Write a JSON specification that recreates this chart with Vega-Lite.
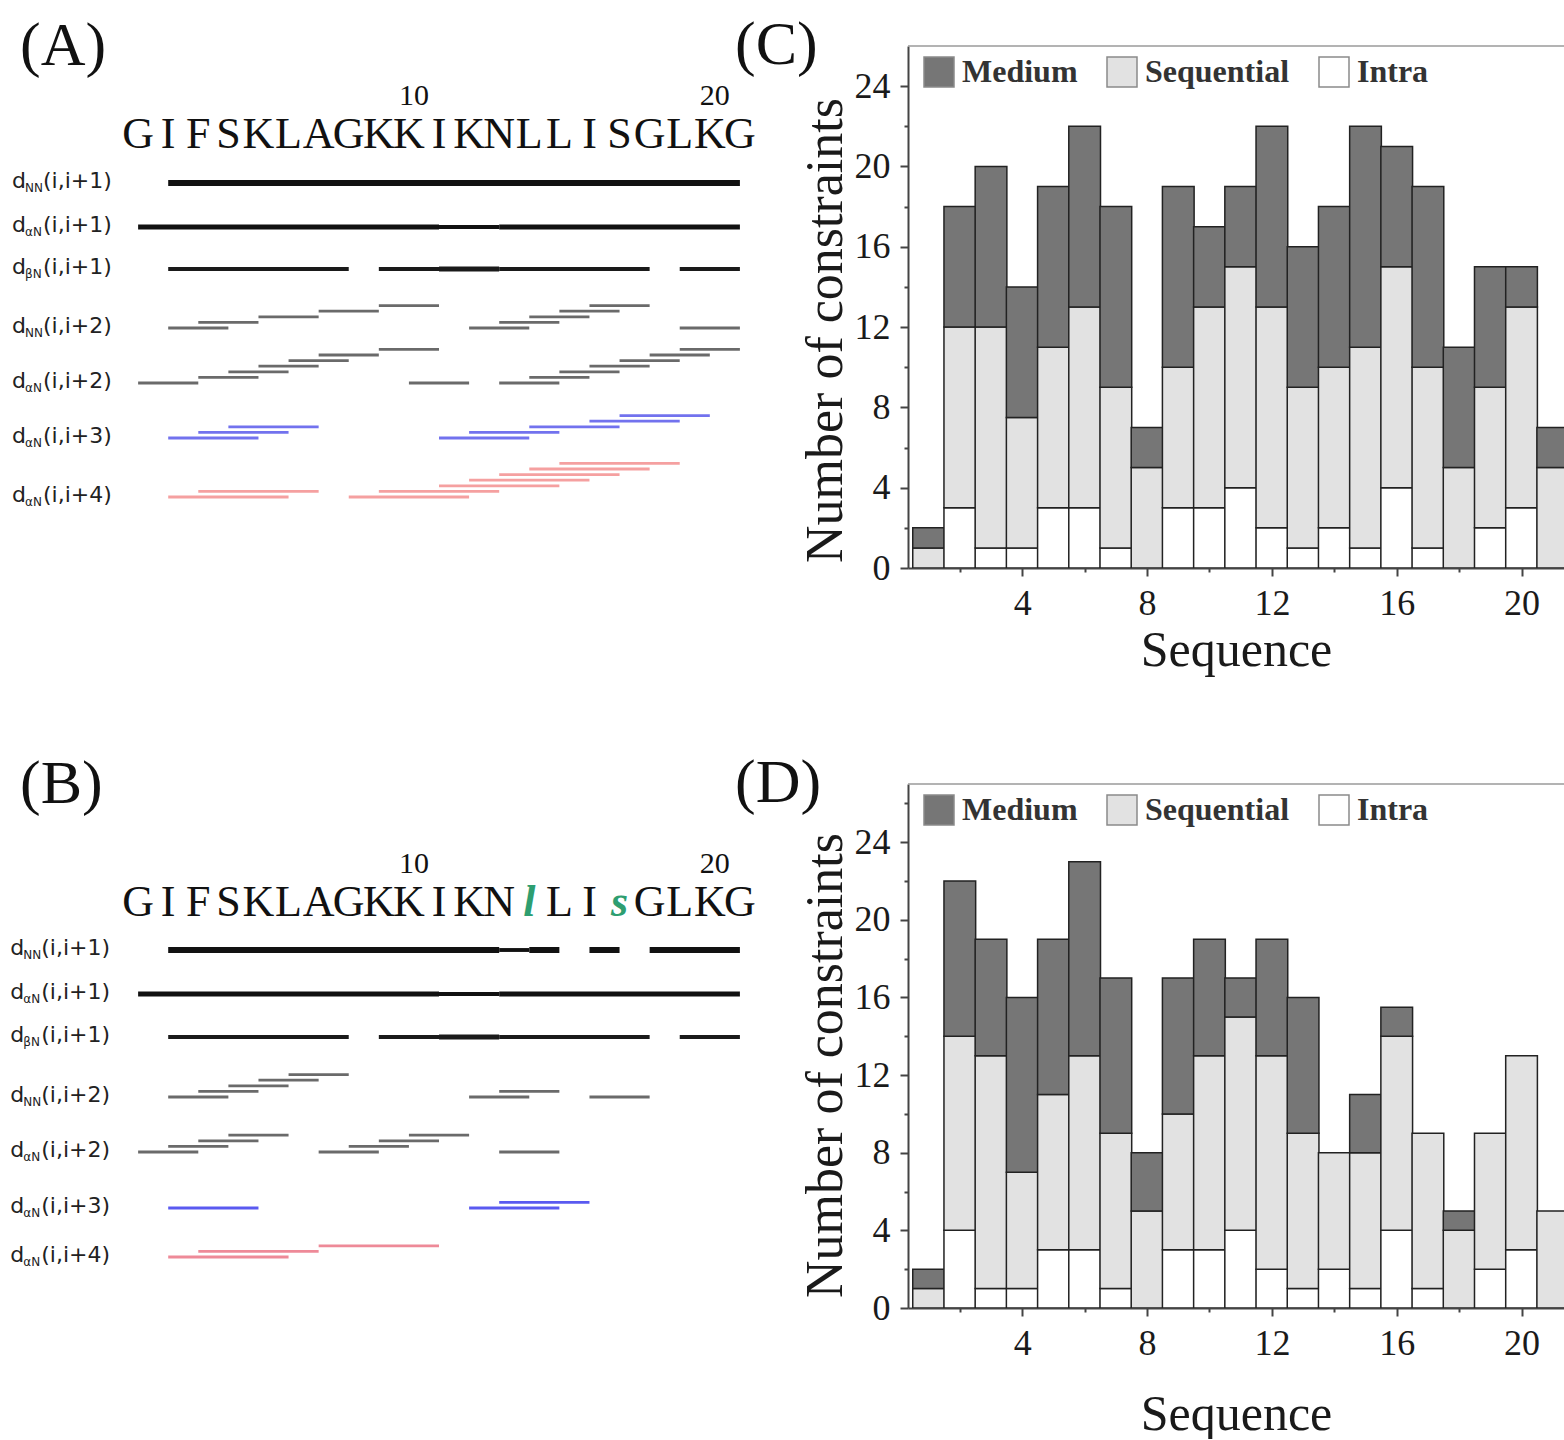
{
"$schema": "https://vega.github.io/schema/vega-lite/v6.json",
"background": "white",
"padding": {"top": 14, "left": 0, "right": 0, "bottom": 0},
"columns": 2,
"bounds": "flush",
"align": "each",
"spacing": {"row": 216, "column": 138},
"resolve": {"scale": {"x": "independent", "y": "independent", "color": "independent", "strokeWidth": "independent"}},
"config": {
  "view": {"stroke": null},
  "title": {"font": "Liberation Serif", "fontSize": 62, "fontWeight": "normal", "color": "#111", "anchor": "start", "frame": "group", "offset": -32, "baseline": "middle"},
  "axis": {"domainColor": "#444", "domainWidth": 2, "tickColor": "#444", "tickWidth": 2, "labelFont": "Liberation Serif", "labelFontSize": 36, "labelColor": "#1a1a1a", "titleFont": "Liberation Serif", "titleFontSize": 50, "titleFontWeight": "normal", "titleColor": "#1a1a1a", "grid": false, "labelFlush": false, "labelOverlap": false, "labelPadding": 10},
  "legend": {"orient": "none", "legendX": 15, "legendY": 10, "direction": "horizontal", "symbolType": "square", "symbolSize": 900, "symbolStrokeColor": "#8a8a8a", "symbolStrokeWidth": 1.5, "labelFont": "Liberation Serif", "labelFontSize": 32, "labelFontWeight": "bold", "labelColor": "#333", "labelOffset": 7, "columnPadding": 26, "labelLimit": 0, "padding": 0}
},
"datasets": {
  "seqA": [{"i":1,"a":"G"},{"i":2,"a":"I"},{"i":3,"a":"F"},{"i":4,"a":"S"},{"i":5,"a":"K"},{"i":6,"a":"L"},{"i":7,"a":"A"},{"i":8,"a":"G"},{"i":9,"a":"K"},{"i":10,"a":"K"},{"i":11,"a":"I"},{"i":12,"a":"K"},{"i":13,"a":"N"},{"i":14,"a":"L"},{"i":15,"a":"L"},{"i":16,"a":"I"},{"i":17,"a":"S"},{"i":18,"a":"G"},{"i":19,"a":"L"},{"i":20,"a":"K"},{"i":21,"a":"G"}],
  "seqB": [{"i":1,"a":"G","d":false},{"i":2,"a":"I","d":false},{"i":3,"a":"F","d":false},{"i":4,"a":"S","d":false},{"i":5,"a":"K","d":false},{"i":6,"a":"L","d":false},{"i":7,"a":"A","d":false},{"i":8,"a":"G","d":false},{"i":9,"a":"K","d":false},{"i":10,"a":"K","d":false},{"i":11,"a":"I","d":false},{"i":12,"a":"K","d":false},{"i":13,"a":"N","d":false},{"i":14,"a":"l","d":true},{"i":15,"a":"L","d":false},{"i":16,"a":"I","d":false},{"i":17,"a":"s","d":true},{"i":18,"a":"G","d":false},{"i":19,"a":"L","d":false},{"i":20,"a":"K","d":false},{"i":21,"a":"G","d":false}],
  "lab": [{"r":1,"sub":"NN","p":"(i,i+1)"},{"r":2,"sub":"αN","p":"(i,i+1)"},{"r":3,"sub":"βN","p":"(i,i+1)"},{"r":4,"sub":"NN","p":"(i,i+2)"},{"r":5,"sub":"αN","p":"(i,i+2)"},{"r":6,"sub":"αN","p":"(i,i+3)"},{"r":7,"sub":"αN","p":"(i,i+4)"}],
  "noeA": [
    {"r":1,"f":2,"t":21,"l":0,"s":4},
    {"r":2,"f":1,"t":11,"l":0,"s":3},{"r":2,"f":11,"t":13,"l":0,"s":2},{"r":2,"f":13,"t":21,"l":0,"s":3},
    {"r":3,"f":2,"t":8,"l":0,"s":2},{"r":3,"f":9,"t":11,"l":0,"s":2},{"r":3,"f":11,"t":13,"l":0,"s":3},{"r":3,"f":13,"t":18,"l":0,"s":2},{"r":3,"f":19,"t":21,"l":0,"s":2},
    {"r":4,"f":2,"t":4,"l":0,"s":1},{"r":4,"f":3,"t":5,"l":1,"s":1},{"r":4,"f":5,"t":7,"l":2,"s":1},{"r":4,"f":7,"t":9,"l":3,"s":1},{"r":4,"f":9,"t":11,"l":4,"s":1},{"r":4,"f":12,"t":14,"l":0,"s":1},{"r":4,"f":13,"t":15,"l":1,"s":1},{"r":4,"f":14,"t":16,"l":2,"s":1},{"r":4,"f":15,"t":17,"l":3,"s":1},{"r":4,"f":16,"t":18,"l":4,"s":1},{"r":4,"f":19,"t":21,"l":0,"s":1},
    {"r":5,"f":1,"t":3,"l":0,"s":1},{"r":5,"f":3,"t":5,"l":1,"s":1},{"r":5,"f":4,"t":6,"l":2,"s":1},{"r":5,"f":5,"t":7,"l":3,"s":1},{"r":5,"f":6,"t":8,"l":4,"s":1},{"r":5,"f":7,"t":9,"l":5,"s":1},{"r":5,"f":9,"t":11,"l":6,"s":1},{"r":5,"f":10,"t":12,"l":0,"s":1},{"r":5,"f":13,"t":15,"l":0,"s":1},{"r":5,"f":14,"t":16,"l":1,"s":1},{"r":5,"f":15,"t":17,"l":2,"s":1},{"r":5,"f":16,"t":18,"l":3,"s":1},{"r":5,"f":17,"t":19,"l":4,"s":1},{"r":5,"f":18,"t":20,"l":5,"s":1},{"r":5,"f":19,"t":21,"l":6,"s":1},
    {"r":6,"f":2,"t":5,"l":0,"s":1},{"r":6,"f":3,"t":6,"l":1,"s":1},{"r":6,"f":4,"t":7,"l":2,"s":1},{"r":6,"f":11,"t":14,"l":0,"s":1},{"r":6,"f":12,"t":15,"l":1,"s":1},{"r":6,"f":14,"t":17,"l":2,"s":1},{"r":6,"f":16,"t":19,"l":3,"s":1},{"r":6,"f":17,"t":20,"l":4,"s":1},
    {"r":7,"f":2,"t":6,"l":0,"s":1},{"r":7,"f":3,"t":7,"l":1,"s":1},{"r":7,"f":8,"t":12,"l":0,"s":1},{"r":7,"f":9,"t":13,"l":1,"s":1},{"r":7,"f":11,"t":15,"l":2,"s":1},{"r":7,"f":12,"t":16,"l":3,"s":1},{"r":7,"f":13,"t":17,"l":4,"s":1},{"r":7,"f":14,"t":18,"l":5,"s":1},{"r":7,"f":15,"t":19,"l":6,"s":1}
  ],
  "noeB": [
    {"r":1,"f":2,"t":13,"l":0,"s":4},{"r":1,"f":13,"t":14,"l":0,"s":2},{"r":1,"f":14,"t":15,"l":0,"s":4},{"r":1,"f":16,"t":17,"l":0,"s":4},{"r":1,"f":18,"t":21,"l":0,"s":4},
    {"r":2,"f":1,"t":11,"l":0,"s":3},{"r":2,"f":11,"t":13,"l":0,"s":2},{"r":2,"f":13,"t":21,"l":0,"s":3},
    {"r":3,"f":2,"t":8,"l":0,"s":2},{"r":3,"f":9,"t":11,"l":0,"s":2},{"r":3,"f":11,"t":13,"l":0,"s":3},{"r":3,"f":13,"t":18,"l":0,"s":2},{"r":3,"f":19,"t":21,"l":0,"s":2},
    {"r":4,"f":2,"t":4,"l":0,"s":1},{"r":4,"f":3,"t":5,"l":1,"s":1},{"r":4,"f":4,"t":6,"l":2,"s":1},{"r":4,"f":5,"t":7,"l":3,"s":1},{"r":4,"f":6,"t":8,"l":4,"s":1},{"r":4,"f":12,"t":14,"l":0,"s":1},{"r":4,"f":13,"t":15,"l":1,"s":1},{"r":4,"f":16,"t":18,"l":0,"s":1},
    {"r":5,"f":1,"t":3,"l":0,"s":1},{"r":5,"f":2,"t":4,"l":1,"s":1},{"r":5,"f":3,"t":5,"l":2,"s":1},{"r":5,"f":4,"t":6,"l":3,"s":1},{"r":5,"f":7,"t":9,"l":0,"s":1},{"r":5,"f":8,"t":10,"l":1,"s":1},{"r":5,"f":9,"t":11,"l":2,"s":1},{"r":5,"f":10,"t":12,"l":3,"s":1},{"r":5,"f":13,"t":15,"l":0,"s":1},
    {"r":6,"f":2,"t":5,"l":0,"s":1},{"r":6,"f":12,"t":15,"l":0,"s":1},{"r":6,"f":13,"t":16,"l":1,"s":1},
    {"r":7,"f":2,"t":6,"l":0,"s":1},{"r":7,"f":3,"t":7,"l":1,"s":1},{"r":7,"f":7,"t":11,"l":2,"s":1}
  ],
  "counts": [
    {"p":"C","x":1,"t":"Intra","o":0,"n":0},{"p":"C","x":1,"t":"Sequential","o":1,"n":1},{"p":"C","x":1,"t":"Medium","o":2,"n":1},
    {"p":"C","x":2,"t":"Intra","o":0,"n":3},{"p":"C","x":2,"t":"Sequential","o":1,"n":9},{"p":"C","x":2,"t":"Medium","o":2,"n":6},
    {"p":"C","x":3,"t":"Intra","o":0,"n":1},{"p":"C","x":3,"t":"Sequential","o":1,"n":11},{"p":"C","x":3,"t":"Medium","o":2,"n":8},
    {"p":"C","x":4,"t":"Intra","o":0,"n":1},{"p":"C","x":4,"t":"Sequential","o":1,"n":6.5},{"p":"C","x":4,"t":"Medium","o":2,"n":6.5},
    {"p":"C","x":5,"t":"Intra","o":0,"n":3},{"p":"C","x":5,"t":"Sequential","o":1,"n":8},{"p":"C","x":5,"t":"Medium","o":2,"n":8},
    {"p":"C","x":6,"t":"Intra","o":0,"n":3},{"p":"C","x":6,"t":"Sequential","o":1,"n":10},{"p":"C","x":6,"t":"Medium","o":2,"n":9},
    {"p":"C","x":7,"t":"Intra","o":0,"n":1},{"p":"C","x":7,"t":"Sequential","o":1,"n":8},{"p":"C","x":7,"t":"Medium","o":2,"n":9},
    {"p":"C","x":8,"t":"Intra","o":0,"n":0},{"p":"C","x":8,"t":"Sequential","o":1,"n":5},{"p":"C","x":8,"t":"Medium","o":2,"n":2},
    {"p":"C","x":9,"t":"Intra","o":0,"n":3},{"p":"C","x":9,"t":"Sequential","o":1,"n":7},{"p":"C","x":9,"t":"Medium","o":2,"n":9},
    {"p":"C","x":10,"t":"Intra","o":0,"n":3},{"p":"C","x":10,"t":"Sequential","o":1,"n":10},{"p":"C","x":10,"t":"Medium","o":2,"n":4},
    {"p":"C","x":11,"t":"Intra","o":0,"n":4},{"p":"C","x":11,"t":"Sequential","o":1,"n":11},{"p":"C","x":11,"t":"Medium","o":2,"n":4},
    {"p":"C","x":12,"t":"Intra","o":0,"n":2},{"p":"C","x":12,"t":"Sequential","o":1,"n":11},{"p":"C","x":12,"t":"Medium","o":2,"n":9},
    {"p":"C","x":13,"t":"Intra","o":0,"n":1},{"p":"C","x":13,"t":"Sequential","o":1,"n":8},{"p":"C","x":13,"t":"Medium","o":2,"n":7},
    {"p":"C","x":14,"t":"Intra","o":0,"n":2},{"p":"C","x":14,"t":"Sequential","o":1,"n":8},{"p":"C","x":14,"t":"Medium","o":2,"n":8},
    {"p":"C","x":15,"t":"Intra","o":0,"n":1},{"p":"C","x":15,"t":"Sequential","o":1,"n":10},{"p":"C","x":15,"t":"Medium","o":2,"n":11},
    {"p":"C","x":16,"t":"Intra","o":0,"n":4},{"p":"C","x":16,"t":"Sequential","o":1,"n":11},{"p":"C","x":16,"t":"Medium","o":2,"n":6},
    {"p":"C","x":17,"t":"Intra","o":0,"n":1},{"p":"C","x":17,"t":"Sequential","o":1,"n":9},{"p":"C","x":17,"t":"Medium","o":2,"n":9},
    {"p":"C","x":18,"t":"Intra","o":0,"n":0},{"p":"C","x":18,"t":"Sequential","o":1,"n":5},{"p":"C","x":18,"t":"Medium","o":2,"n":6},
    {"p":"C","x":19,"t":"Intra","o":0,"n":2},{"p":"C","x":19,"t":"Sequential","o":1,"n":7},{"p":"C","x":19,"t":"Medium","o":2,"n":6},
    {"p":"C","x":20,"t":"Intra","o":0,"n":3},{"p":"C","x":20,"t":"Sequential","o":1,"n":10},{"p":"C","x":20,"t":"Medium","o":2,"n":2},
    {"p":"C","x":21,"t":"Intra","o":0,"n":0},{"p":"C","x":21,"t":"Sequential","o":1,"n":5},{"p":"C","x":21,"t":"Medium","o":2,"n":2},
    {"p":"D","x":1,"t":"Intra","o":0,"n":0},{"p":"D","x":1,"t":"Sequential","o":1,"n":1},{"p":"D","x":1,"t":"Medium","o":2,"n":1},
    {"p":"D","x":2,"t":"Intra","o":0,"n":4},{"p":"D","x":2,"t":"Sequential","o":1,"n":10},{"p":"D","x":2,"t":"Medium","o":2,"n":8},
    {"p":"D","x":3,"t":"Intra","o":0,"n":1},{"p":"D","x":3,"t":"Sequential","o":1,"n":12},{"p":"D","x":3,"t":"Medium","o":2,"n":6},
    {"p":"D","x":4,"t":"Intra","o":0,"n":1},{"p":"D","x":4,"t":"Sequential","o":1,"n":6},{"p":"D","x":4,"t":"Medium","o":2,"n":9},
    {"p":"D","x":5,"t":"Intra","o":0,"n":3},{"p":"D","x":5,"t":"Sequential","o":1,"n":8},{"p":"D","x":5,"t":"Medium","o":2,"n":8},
    {"p":"D","x":6,"t":"Intra","o":0,"n":3},{"p":"D","x":6,"t":"Sequential","o":1,"n":10},{"p":"D","x":6,"t":"Medium","o":2,"n":10},
    {"p":"D","x":7,"t":"Intra","o":0,"n":1},{"p":"D","x":7,"t":"Sequential","o":1,"n":8},{"p":"D","x":7,"t":"Medium","o":2,"n":8},
    {"p":"D","x":8,"t":"Intra","o":0,"n":0},{"p":"D","x":8,"t":"Sequential","o":1,"n":5},{"p":"D","x":8,"t":"Medium","o":2,"n":3},
    {"p":"D","x":9,"t":"Intra","o":0,"n":3},{"p":"D","x":9,"t":"Sequential","o":1,"n":7},{"p":"D","x":9,"t":"Medium","o":2,"n":7},
    {"p":"D","x":10,"t":"Intra","o":0,"n":3},{"p":"D","x":10,"t":"Sequential","o":1,"n":10},{"p":"D","x":10,"t":"Medium","o":2,"n":6},
    {"p":"D","x":11,"t":"Intra","o":0,"n":4},{"p":"D","x":11,"t":"Sequential","o":1,"n":11},{"p":"D","x":11,"t":"Medium","o":2,"n":2},
    {"p":"D","x":12,"t":"Intra","o":0,"n":2},{"p":"D","x":12,"t":"Sequential","o":1,"n":11},{"p":"D","x":12,"t":"Medium","o":2,"n":6},
    {"p":"D","x":13,"t":"Intra","o":0,"n":1},{"p":"D","x":13,"t":"Sequential","o":1,"n":8},{"p":"D","x":13,"t":"Medium","o":2,"n":7},
    {"p":"D","x":14,"t":"Intra","o":0,"n":2},{"p":"D","x":14,"t":"Sequential","o":1,"n":6},{"p":"D","x":14,"t":"Medium","o":2,"n":0},
    {"p":"D","x":15,"t":"Intra","o":0,"n":1},{"p":"D","x":15,"t":"Sequential","o":1,"n":7},{"p":"D","x":15,"t":"Medium","o":2,"n":3},
    {"p":"D","x":16,"t":"Intra","o":0,"n":4},{"p":"D","x":16,"t":"Sequential","o":1,"n":10},{"p":"D","x":16,"t":"Medium","o":2,"n":1.5},
    {"p":"D","x":17,"t":"Intra","o":0,"n":1},{"p":"D","x":17,"t":"Sequential","o":1,"n":8},{"p":"D","x":17,"t":"Medium","o":2,"n":0},
    {"p":"D","x":18,"t":"Intra","o":0,"n":0},{"p":"D","x":18,"t":"Sequential","o":1,"n":4},{"p":"D","x":18,"t":"Medium","o":2,"n":1},
    {"p":"D","x":19,"t":"Intra","o":0,"n":2},{"p":"D","x":19,"t":"Sequential","o":1,"n":7},{"p":"D","x":19,"t":"Medium","o":2,"n":0},
    {"p":"D","x":20,"t":"Intra","o":0,"n":3},{"p":"D","x":20,"t":"Sequential","o":1,"n":10},{"p":"D","x":20,"t":"Medium","o":2,"n":0},
    {"p":"D","x":21,"t":"Intra","o":0,"n":0},{"p":"D","x":21,"t":"Sequential","o":1,"n":5},{"p":"D","x":21,"t":"Medium","o":2,"n":0}
  ]
},
"concat": [
  {
    "width": 770, "height": 522,
    "title": {"text": "(A)", "dx": 20},
    "layer": [
      {"data": {"name": "noeA"},
       "encoding": {
         "x": {"field": "f", "type": "quantitative", "scale": {"domain": [-3.59, 22.0], "nice": false, "zero": false}, "axis": null},
         "x2": {"field": "t"},
         "y": {"field": "r", "type": "quantitative", "scale": {"domain": [-1,0,1,2,3,4,5,6,7], "range": [59,102,137,181,223,282,337,392,451], "nice": false, "zero": false}, "axis": null},
         "color": {"field": "r", "type": "ordinal", "scale": {"domain": [1,2,3,4,5,6,7], "range": ["#111111","#111111","#1a1a1a","#6a6a6a","#6a6a6a","#7272ee","#f5a0a0"]}, "legend": null},
         "strokeWidth": {"field": "s", "type": "quantitative", "scale": {"domain": [1,4], "range": [2.8,6]}, "legend": null}
       },
       "layer": [
         {"transform": [{"filter": "datum.l === 0"}], "mark": {"type": "rule"}},
         {"transform": [{"filter": "datum.l === 1"}], "mark": {"type": "rule", "yOffset": -5.6}},
         {"transform": [{"filter": "datum.l === 2"}], "mark": {"type": "rule", "yOffset": -11.2}},
         {"transform": [{"filter": "datum.l === 3"}], "mark": {"type": "rule", "yOffset": -16.8}},
         {"transform": [{"filter": "datum.l === 4"}], "mark": {"type": "rule", "yOffset": -22.4}},
         {"transform": [{"filter": "datum.l === 5"}], "mark": {"type": "rule", "yOffset": -28}},
         {"transform": [{"filter": "datum.l === 6"}], "mark": {"type": "rule", "yOffset": -33.6}}
       ]},
      {"data": {"name": "seqA"}, "mark": {"type": "text", "font": "Liberation Serif", "fontSize": 44, "color": "#111", "baseline": "alphabetic", "align": "center"},
       "encoding": {"x": {"field": "i", "type": "quantitative", "axis": null}, "y": {"datum": 0, "type": "quantitative", "axis": null}, "text": {"field": "a"}}},
      {"data": {"values": [{"n": 10}, {"n": 20}]}, "mark": {"type": "text", "font": "Liberation Serif", "fontSize": 30, "color": "#111", "baseline": "alphabetic", "align": "center", "dx": 5},
       "encoding": {"x": {"field": "n", "type": "quantitative", "axis": null}, "y": {"datum": -1, "type": "quantitative", "axis": null}, "text": {"field": "n", "type": "quantitative"}}},
      {"data": {"name": "lab"}, "mark": {"type": "text", "text": "d", "font": "DejaVu Sans", "fontSize": 22, "align": "left", "baseline": "alphabetic", "dy": 5, "color": "#222"},
       "encoding": {"x": {"datum": -3.19, "type": "quantitative", "axis": null}, "y": {"field": "r", "type": "quantitative", "axis": null}}},
      {"data": {"name": "lab"}, "mark": {"type": "text", "font": "DejaVu Sans", "fontSize": 12, "align": "left", "baseline": "alphabetic", "dx": 13, "dy": 9, "color": "#222"},
       "encoding": {"x": {"datum": -3.19, "type": "quantitative", "axis": null}, "y": {"field": "r", "type": "quantitative", "axis": null}, "text": {"field": "sub"}}},
      {"data": {"name": "lab"}, "mark": {"type": "text", "font": "DejaVu Sans", "fontSize": 22, "align": "left", "baseline": "alphabetic", "dx": 31, "dy": 5, "color": "#222"},
       "encoding": {"x": {"datum": -3.19, "type": "quantitative", "axis": null}, "y": {"field": "r", "type": "quantitative", "axis": null}, "text": {"field": "p"}}}
    ]
  },
  {
    "width": 656, "height": 522,
    "title": {"text": "(C)", "dx": -173},
    "layer": [
      {"data": {"name": "counts"},
       "transform": [{"filter": "datum.p === 'C' && datum.n > 0"}],
       "mark": {"type": "bar", "width": 31.7, "stroke": "#222", "strokeWidth": 1.5, "clip": true},
       "encoding": {
         "x": {"field": "x", "type": "quantitative", "scale": {"domain": [0.5, 21.2], "nice": false, "zero": false},
               "axis": {"title": "Sequence", "values": [2,4,6,8,10,12,14,16,18,20], "labelExpr": "datum.value % 4 === 0 ? datum.label : ''", "tickSize": {"condition": {"test": "datum.value % 4 === 0", "value": 8}, "value": 4}, "titlePadding": 4}},
         "y": {"field": "n", "type": "quantitative", "stack": "zero", "scale": {"domain": [0, 26], "nice": false},
               "axis": {"title": "Number of constraints", "titleFontSize": 52, "titlePadding": 2, "titleY": 284, "values": [0,2,4,6,8,10,12,14,16,18,20,22,24], "labelExpr": "datum.value % 4 === 0 ? datum.label : ''", "tickSize": {"condition": {"test": "datum.value % 4 === 0", "value": 8}, "value": 4}}},
         "color": {"field": "t", "type": "nominal", "scale": {"domain": ["Medium","Sequential","Intra"], "range": ["#767676","#e2e2e2","#ffffff"]}, "legend": {"title": null}},
         "order": {"field": "o", "type": "quantitative"}
       }},
      {"data": {"values": [{}]}, "mark": {"type": "rule", "color": "#9a9a9a", "strokeWidth": 1.5}, "encoding": {"y": {"datum": 26, "type": "quantitative"}}}
    ]
  },
  {
    "width": 770, "height": 524,
    "title": {"text": "(B)", "dx": 20},
    "layer": [
      {"data": {"name": "noeB"},
       "encoding": {
         "x": {"field": "f", "type": "quantitative", "scale": {"domain": [-3.59, 22.0], "nice": false, "zero": false}, "axis": null},
         "x2": {"field": "t"},
         "y": {"field": "r", "type": "quantitative", "scale": {"domain": [-1,0,1,2,3,4,5,6,7], "range": [89,132,166,210,253,313,368,424,473], "nice": false, "zero": false}, "axis": null},
         "color": {"field": "r", "type": "ordinal", "scale": {"domain": [1,2,3,4,5,6,7], "range": ["#111111","#111111","#1a1a1a","#6a6a6a","#6a6a6a","#5a5af0","#ee8a98"]}, "legend": null},
         "strokeWidth": {"field": "s", "type": "quantitative", "scale": {"domain": [1,4], "range": [2.8,6]}, "legend": null}
       },
       "layer": [
         {"transform": [{"filter": "datum.l === 0"}], "mark": {"type": "rule"}},
         {"transform": [{"filter": "datum.l === 1"}], "mark": {"type": "rule", "yOffset": -5.6}},
         {"transform": [{"filter": "datum.l === 2"}], "mark": {"type": "rule", "yOffset": -11.2}},
         {"transform": [{"filter": "datum.l === 3"}], "mark": {"type": "rule", "yOffset": -16.8}},
         {"transform": [{"filter": "datum.l === 4"}], "mark": {"type": "rule", "yOffset": -22.4}}
       ]},
      {"data": {"name": "seqB"}, "transform": [{"filter": "!datum.d"}], "mark": {"type": "text", "font": "Liberation Serif", "fontSize": 44, "color": "#111", "baseline": "alphabetic", "align": "center"},
       "encoding": {"x": {"field": "i", "type": "quantitative", "axis": null}, "y": {"datum": 0, "type": "quantitative", "axis": null}, "text": {"field": "a"}}},
      {"data": {"name": "seqB"}, "transform": [{"filter": "datum.d"}], "mark": {"type": "text", "font": "Liberation Serif", "fontSize": 44, "fontStyle": "italic", "fontWeight": "bold", "color": "#2e9e70", "baseline": "alphabetic", "align": "center"},
       "encoding": {"x": {"field": "i", "type": "quantitative", "axis": null}, "y": {"datum": 0, "type": "quantitative", "axis": null}, "text": {"field": "a"}}},
      {"data": {"values": [{"n": 10}, {"n": 20}]}, "mark": {"type": "text", "font": "Liberation Serif", "fontSize": 30, "color": "#111", "baseline": "alphabetic", "align": "center", "dx": 5},
       "encoding": {"x": {"field": "n", "type": "quantitative", "axis": null}, "y": {"datum": -1, "type": "quantitative", "axis": null}, "text": {"field": "n", "type": "quantitative"}}},
      {"data": {"name": "lab"}, "mark": {"type": "text", "text": "d", "font": "DejaVu Sans", "fontSize": 22, "align": "left", "baseline": "alphabetic", "dy": 5, "color": "#222"},
       "encoding": {"x": {"datum": -3.25, "type": "quantitative", "axis": null}, "y": {"field": "r", "type": "quantitative", "axis": null}}},
      {"data": {"name": "lab"}, "mark": {"type": "text", "font": "DejaVu Sans", "fontSize": 12, "align": "left", "baseline": "alphabetic", "dx": 13, "dy": 9, "color": "#222"},
       "encoding": {"x": {"datum": -3.25, "type": "quantitative", "axis": null}, "y": {"field": "r", "type": "quantitative", "axis": null}, "text": {"field": "sub"}}},
      {"data": {"name": "lab"}, "mark": {"type": "text", "font": "DejaVu Sans", "fontSize": 22, "align": "left", "baseline": "alphabetic", "dx": 31, "dy": 5, "color": "#222"},
       "encoding": {"x": {"datum": -3.25, "type": "quantitative", "axis": null}, "y": {"field": "r", "type": "quantitative", "axis": null}, "text": {"field": "p"}}}
    ]
  },
  {
    "width": 656, "height": 524,
    "title": {"text": "(D)", "dx": -173},
    "layer": [
      {"data": {"name": "counts"},
       "transform": [{"filter": "datum.p === 'D' && datum.n > 0"}],
       "mark": {"type": "bar", "width": 31.7, "stroke": "#222", "strokeWidth": 1.5, "clip": true},
       "encoding": {
         "x": {"field": "x", "type": "quantitative", "scale": {"domain": [0.5, 21.2], "nice": false, "zero": false},
               "axis": {"title": "Sequence", "values": [2,4,6,8,10,12,14,16,18,20], "labelExpr": "datum.value % 4 === 0 ? datum.label : ''", "tickSize": {"condition": {"test": "datum.value % 4 === 0", "value": 8}, "value": 4}, "titlePadding": 28}},
         "y": {"field": "n", "type": "quantitative", "stack": "zero", "scale": {"domain": [0, 27], "nice": false},
               "axis": {"title": "Number of constraints", "titleFontSize": 52, "titlePadding": 2, "titleY": 281, "values": [0,2,4,6,8,10,12,14,16,18,20,22,24,26], "labelExpr": "datum.value % 4 === 0 ? datum.label : ''", "tickSize": {"condition": {"test": "datum.value % 4 === 0", "value": 8}, "value": 4}}},
         "color": {"field": "t", "type": "nominal", "scale": {"domain": ["Medium","Sequential","Intra"], "range": ["#767676","#e2e2e2","#ffffff"]}, "legend": {"title": null}},
         "order": {"field": "o", "type": "quantitative"}
       }},
      {"data": {"values": [{}]}, "mark": {"type": "rule", "color": "#9a9a9a", "strokeWidth": 1.5}, "encoding": {"y": {"datum": 27, "type": "quantitative"}}}
    ]
  }
]
}
